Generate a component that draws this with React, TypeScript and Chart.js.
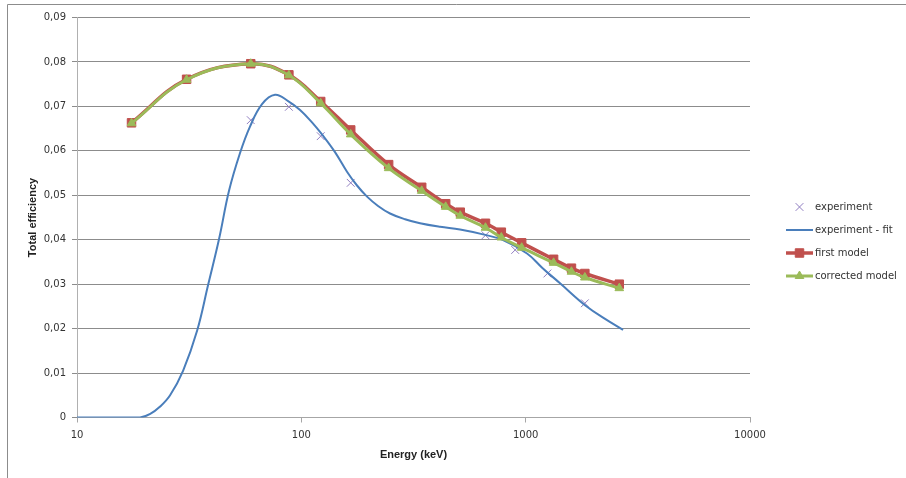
import React, { useEffect, useRef } from 'react';
import { Chart, registerables } from 'chart.js';
import { drawPoint } from 'chart.js/helpers';

Chart.register(...registerables);

// ---- data ----
const expEnergies = [59.5, 88, 122, 166, 662, 898, 1250, 1836];
const expValues = [0.0669, 0.0699, 0.0633, 0.0528, 0.041, 0.0377, 0.0324, 0.0257];

const fitEnergies = [10, 15, 19.1, 21.2, 23.4, 26, 29.7, 34.3, 38.4, 43, 47.6, 53.3, 59.1, 66.8, 76.3, 87.3, 98.7, 111.6, 124.9, 141.3, 159.8, 177.1, 196.3, 219.8, 248.6, 289.9, 338.2, 415.4, 509.9, 645.8, 792.9, 1014, 1184, 1423, 1878, 2259, 2718];
const fitValues = [0, 0, 0, 0.0008, 0.0024, 0.005, 0.0105, 0.0195, 0.0298, 0.0402, 0.051, 0.0595, 0.0655, 0.0705, 0.0726, 0.0712, 0.0692, 0.0664, 0.0634, 0.0597, 0.0553, 0.0522, 0.0497, 0.0476, 0.0459, 0.0446, 0.0437, 0.0429, 0.0423, 0.0412, 0.0399, 0.0369, 0.0337, 0.0302, 0.0249, 0.0222, 0.0197];

const modelEnergies = [17.5, 30.8, 59.5, 88, 122, 166, 245, 344, 440, 511, 662, 779, 960, 1332, 1600, 1836, 2614];
const firstModel = [0.0663, 0.0761, 0.0796, 0.0771, 0.0711, 0.0647, 0.0569, 0.0518, 0.0481, 0.0462, 0.0437, 0.0417, 0.0393, 0.0356, 0.0336, 0.0324, 0.03];
const correctedModel = [0.0662, 0.076, 0.0796, 0.077, 0.0707, 0.0637, 0.0561, 0.051, 0.0474, 0.0454, 0.0427, 0.0405, 0.0382, 0.0348, 0.0328, 0.0315, 0.0291];

const xTicks = [10, 100, 1000, 10000];

const seriesLabels = ['experiment', 'experiment - fit', 'first model', 'corrected model'];
const xTitle = 'Energy (keV)';
const yTitle = 'Total efficiency';

const toPoints = (xs: number[], ys: number[]) => xs.map((x, i) => ({ x, y: ys[i] }));

const framePlugin = {
  id: 'frame',
  beforeDraw(chart: any) {
    const { ctx, width, height } = chart;
    ctx.save();
    ctx.strokeStyle = '#8C8C8C';
    ctx.lineWidth = 1;
    ctx.beginPath();
    ctx.moveTo(7.5, height);
    ctx.lineTo(7.5, 4.5);
    ctx.lineTo(width, 4.5);
    ctx.stroke();
    ctx.restore();
  },
};

const legendPlugin = {
  id: 'excelLegend',
  afterDraw(chart: any) {
    const { ctx, chartArea } = chart;
    const x0 = chartArea.right + 36;
    const lineLen = 27;
    const textX = chartArea.right + 65;
    let y = chartArea.top + 189.5;
    ctx.save();
    chart.data.datasets.forEach((ds: any) => {
      if (ds.showLine !== false) {
        ctx.strokeStyle = ds.borderColor;
        ctx.lineWidth = ds.borderWidth;
        ctx.beginPath();
        ctx.moveTo(x0, y);
        ctx.lineTo(x0 + lineLen, y);
        ctx.stroke();
      }
      if (ds.pointRadius > 0) {
        ctx.strokeStyle = ds.pointBorderColor;
        ctx.fillStyle = ds.pointBackgroundColor;
        ctx.lineWidth = ds.pointBorderWidth;
        drawPoint(
          ctx,
          { pointStyle: ds.pointStyle, radius: ds.pointRadius, rotation: 0, borderWidth: ds.pointBorderWidth } as any,
          x0 + lineLen / 2,
          y
        );
      }
      ctx.fillStyle = '#333333';
      ctx.font = '10px "DejaVu Sans"';
      ctx.textBaseline = 'middle';
      ctx.textAlign = 'left';
      ctx.fillText(ds.label, textX, y);
      y += 23;
    });
    ctx.restore();
  },
};

export default function App() {
  const ref = useRef<HTMLCanvasElement | null>(null);

  useEffect(() => {
    if (!ref.current) return;
    const chart = new Chart(ref.current, {
      type: 'line',
      data: {
        datasets: [
          {
            label: seriesLabels[0],
            data: toPoints(expEnergies, expValues),
            showLine: false,
            pointStyle: 'crossRot',
            pointRadius: 5.5,
            pointBorderWidth: 1,
            pointBorderColor: '#8F7DC0',
            pointBackgroundColor: '#8F7DC0',
            borderColor: '#8F7DC0',
            order: 4,
          },
          {
            label: seriesLabels[1],
            data: toPoints(fitEnergies, fitValues),
            borderColor: '#4A7EBB',
            borderWidth: 2,
            pointRadius: 0,
            tension: 0.4,
            order: 3,
          },
          {
            label: seriesLabels[2],
            data: toPoints(modelEnergies, firstModel),
            borderColor: '#C0504D',
            borderWidth: 3.5,
            tension: 0.4,
            pointStyle: 'rect',
            pointRadius: 6,
            pointBorderWidth: 1,
            pointBorderColor: '#C0504D',
            pointBackgroundColor: '#C0504D',
            order: 2,
          },
          {
            label: seriesLabels[3],
            data: toPoints(modelEnergies, correctedModel),
            borderColor: '#9BBB59',
            borderWidth: 3,
            tension: 0.4,
            pointStyle: 'triangle',
            pointRadius: 5,
            pointBorderWidth: 1,
            pointBorderColor: '#9BBB59',
            pointBackgroundColor: '#9BBB59',
            order: 1,
          },
        ] as any,
      },
      options: {
        animation: false,
        responsive: false,
        maintainAspectRatio: false,
        layout: { padding: { top: 17.5, right: 156, bottom: 0, left: 0 } },
        plugins: { legend: { display: false }, tooltip: { enabled: false } },
        scales: {
          x: {
            type: 'logarithmic',
            min: 10,
            max: 10000,
            afterBuildTicks: (s: any) => {
              s.ticks = xTicks.map((v) => ({ value: v }));
            },
            afterFit: (s: any) => {
              s.height = 60.5;
            },
            grid: { drawOnChartArea: false, drawTicks: true, tickLength: 5, color: '#A6A6A6' },
            border: { display: true, color: '#A6A6A6' },
            ticks: {
              padding: 7,
              maxRotation: 0,
              autoSkip: false,
              color: '#333333',
              font: { family: 'DejaVu Sans', size: 10 },
              callback: (v: any) => String(v),
            },
            title: {
              display: true,
              text: xTitle,
              color: '#222222',
              font: { family: 'Liberation Sans', size: 11, weight: 'bold' },
              padding: { top: 0, bottom: 16.4 },
            },
          },
          y: {
            min: 0,
            max: 0.09,
            afterFit: (s: any) => {
              s.width = 77;
            },
            grid: { color: '#8C8C8C', tickLength: 5 },
            border: { display: true, color: '#B0B0B0' },
            ticks: {
              stepSize: 0.01,
              padding: 6,
              color: '#333333',
              font: { family: 'DejaVu Sans', size: 10 },
              callback: (v: any) => (Math.abs(v) < 1e-9 ? '0' : Number(v).toFixed(2).replace('.', ',')),
            },
            title: {
              display: true,
              text: yTitle,
              color: '#222222',
              font: { family: 'Liberation Sans', size: 11, weight: 'bold' },
              padding: { top: 26.4, bottom: 0 },
            },
          },
        },
      } as any,
      plugins: [framePlugin, legendPlugin],
    });
    return () => chart.destroy();
  }, []);

  return (
    <div style={{ position: 'absolute', left: 0, top: 0, width: 906, height: 478, background: '#fff' }}>
      <canvas ref={ref} width={906} height={478} style={{ display: 'block', width: 906, height: 478 }} />
    </div>
  );
}
